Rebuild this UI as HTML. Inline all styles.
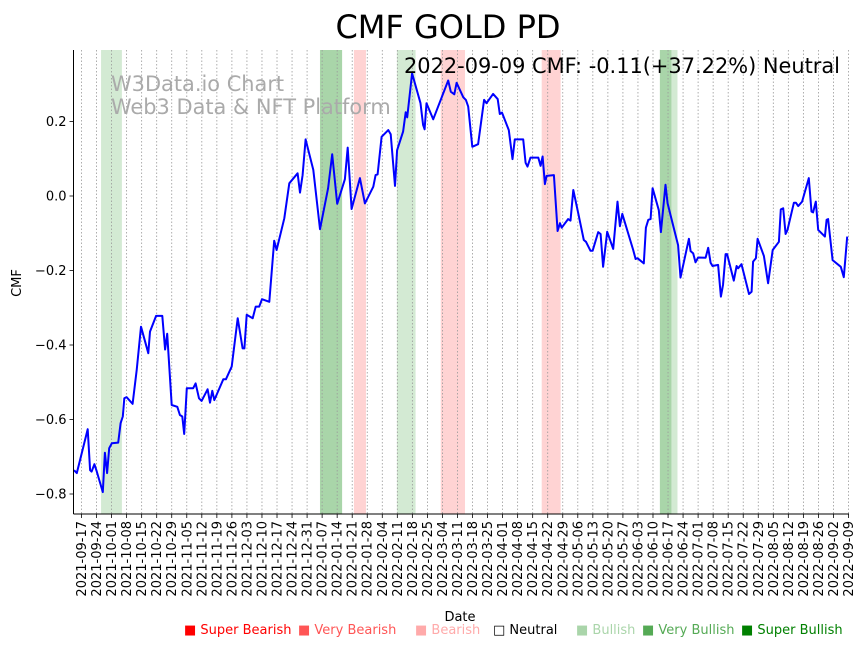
<!DOCTYPE html>
<html><head><meta charset="utf-8">
<style>
html,body{margin:0;padding:0;background:#fff;}
svg{display:block;font-family:"DejaVu Sans","Liberation Sans",sans-serif;}
</style></head>
<body>
<svg id="chart" width="864" height="646" viewBox="0 0 864 646">
<text x="448" y="38" font-size="32" text-anchor="middle">CMF GOLD PD</text>
<g id="bands"></g>
<g id="grid"></g>
<g fill="#aaaaaa" font-size="20.9">
<text x="111" y="91">W3Data.io Chart</text>
<text x="111" y="114">Web3 Data &amp; NFT Platform</text>
</g>
<g id="series"></g>
<g id="axes"></g>
<text x="840" y="73" font-size="20.9" text-anchor="end">2022-09-09 CMF: -0.11(+37.22%) Neutral</text>
<text x="0" y="0" font-size="13" text-anchor="middle" transform="translate(21,283) rotate(-90)">CMF</text>
<text x="460" y="621" font-size="13" text-anchor="middle">Date</text>
<g id="legend" font-size="13"></g>
</svg>
<script>
const tickLabels = ["2021-09-17","2021-09-24","2021-10-01","2021-10-08","2021-10-15","2021-10-22","2021-10-29","2021-11-05","2021-11-12","2021-11-19","2021-11-26","2021-12-03","2021-12-10","2021-12-17","2021-12-24","2021-12-31","2022-01-07","2022-01-14","2022-01-21","2022-01-28","2022-02-04","2022-02-11","2022-02-18","2022-02-25","2022-03-04","2022-03-11","2022-03-18","2022-03-25","2022-04-01","2022-04-08","2022-04-15","2022-04-22","2022-04-29","2022-05-06","2022-05-13","2022-05-20","2022-05-27","2022-06-03","2022-06-10","2022-06-17","2022-06-24","2022-07-01","2022-07-08","2022-07-15","2022-07-22","2022-07-29","2022-08-05","2022-08-12","2022-08-19","2022-08-26","2022-09-02","2022-09-09"];
const yTicks = [0.2,0.0,-0.2,-0.4,-0.6,-0.8];
const yTickLabels = ["0.2","0.0","−0.2","−0.4","−0.6","−0.8"];
// days since 2021-09-17
const days = [-3.5,-2.2,0.1,2.9,4.0,4.7,6.0,7.1,9.9,10.9,11.9,12.9,14.1,17.1,18.2,19.2,19.9,21.0,23.8,25.7,27.7,31.1,31.9,34.7,37.6,38.9,39.9,42.0,44.6,45.8,46.9,47.8,49.0,52.0,53.1,54.7,55.9,58.7,59.8,60.9,61.8,66.0,67.2,69.9,72.7,75.0,75.8,76.9,79.7,81.1,82.7,84.0,87.4,89.7,90.8,94.4,96.7,100.6,101.7,102.9,104.3,107.9,111.0,114.8,116.7,119.0,122.6,123.9,125.7,129.6,131.9,135.8,136.9,137.8,139.7,142.8,143.9,145.9,146.9,149.7,150.9,151.6,153.9,157.8,159.0,159.7,160.6,163.7,170.7,171.9,173.5,174.6,177.7,178.9,180.0,181.9,184.6,187.4,188.5,191.6,193.7,194.7,195.7,198.9,200.6,201.7,205.6,206.7,207.6,209.0,212.6,213.7,214.6,215.7,216.5,219.9,221.6,222.7,223.5,226.5,227.6,228.9,231.2,233.8,234.8,236.9,237.9,240.5,241.6,242.8,244.7,247.5,249.5,250.6,251.7,256.8,257.9,258.8,261.7,262.7,263.8,264.9,265.8,268.7,269.7,271.8,272.8,277.7,278.8,282.7,283.5,284.7,285.8,287.0,290.5,291.7,292.8,293.7,296.3,297.6,298.6,299.8,300.5,303.6,304.9,305.6,307.2,310.7,311.9,312.6,313.9,314.7,317.6,319.6,321.7,324.6,325.5,326.6,327.7,328.6,331.6,332.5,333.6,335.4,338.5,339.8,340.5,341.8,342.9,346.0,346.8,347.5,349.6,353.4,354.8,356.4];
const cmf = [-0.736,-0.744,-0.691,-0.626,-0.736,-0.740,-0.720,-0.740,-0.795,-0.689,-0.744,-0.677,-0.664,-0.662,-0.610,-0.592,-0.543,-0.540,-0.558,-0.467,-0.351,-0.422,-0.364,-0.322,-0.322,-0.412,-0.370,-0.561,-0.566,-0.588,-0.592,-0.639,-0.516,-0.516,-0.503,-0.543,-0.550,-0.519,-0.555,-0.523,-0.548,-0.492,-0.492,-0.458,-0.328,-0.409,-0.409,-0.319,-0.328,-0.297,-0.297,-0.277,-0.284,-0.120,-0.145,-0.060,0.034,0.061,0.009,0.056,0.152,0.070,-0.089,0.021,0.112,-0.021,0.045,0.130,-0.035,0.048,-0.020,0.025,0.056,0.058,0.159,0.177,0.166,0.027,0.123,0.173,0.225,0.211,0.329,0.249,0.191,0.179,0.249,0.206,0.310,0.280,0.273,0.304,0.265,0.258,0.240,0.132,0.139,0.258,0.249,0.274,0.260,0.220,0.224,0.177,0.099,0.152,0.152,0.089,0.079,0.103,0.103,0.081,0.106,0.032,0.054,0.056,-0.094,-0.073,-0.085,-0.062,-0.066,0.016,-0.046,-0.118,-0.123,-0.147,-0.147,-0.097,-0.102,-0.190,-0.096,-0.142,-0.015,-0.081,-0.048,-0.145,-0.169,-0.167,-0.181,-0.085,-0.064,-0.062,0.021,-0.038,-0.097,0.030,-0.020,-0.132,-0.219,-0.115,-0.148,-0.154,-0.178,-0.165,-0.166,-0.139,-0.179,-0.188,-0.185,-0.270,-0.239,-0.156,-0.156,-0.227,-0.188,-0.194,-0.183,-0.263,-0.257,-0.176,-0.167,-0.115,-0.161,-0.234,-0.145,-0.123,-0.036,-0.033,-0.102,-0.091,-0.018,-0.018,-0.027,-0.015,0.048,-0.042,-0.044,-0.015,-0.091,-0.109,-0.064,-0.062,-0.172,-0.190,-0.218,-0.109];
const bandStart = [9.1,111.0,126.8,146.8,167.2,214.2,269.2,274.6];
const bandEnd = [18.8,121.3,132.4,155.5,178.5,223.0,274.6,277.4];
const bandType = ["bullish","very-bullish","bearish","bullish","bearish","bearish","very-bullish","bullish"];
const legendLabels = ["Super Bearish","Very Bearish","Bearish","Neutral","Bullish","Very Bullish","Super Bullish"];

const NS="http://www.w3.org/2000/svg";
const L=73.5, R=849, T=50, B=514;
const x = d => 81.5 + d*(767/357);
const y = v => 196 - v*372.5;
function mk(tag, attrs, parent){const e=document.createElementNS(NS,tag);for(const k in attrs)e.setAttribute(k,attrs[k]);parent.appendChild(e);return e;}
const bandFill={"bullish":"#d3ead3","very-bullish":"#a9d5a9","bearish":"#ffd3d3"};
const gB=document.getElementById('bands');
for(let i=0;i<bandStart.length;i++){
  const r=mk('rect',{x:x(bandStart[i]),y:T,width:x(bandEnd[i])-x(bandStart[i]),height:B-T,fill:bandFill[bandType[i]]},gB);
  
  
}
const gG=document.getElementById('grid'), gA=document.getElementById('axes');
for(let i=0;i<tickLabels.length;i++){
  const xp=x(i*7);
  const gl=mk('line',{x1:xp,x2:xp,y1:T,y2:B,stroke:'#999',"stroke-width":0.8,"stroke-dasharray":"1.5,2"},gG);
  
  
  mk('line',{x1:xp,x2:xp,y1:B,y2:B+4,stroke:'#000',"stroke-width":0.8},gA);
  const t=mk('text',{transform:`translate(${xp+4.5},${B+7}) rotate(-90)`,"font-size":13,"text-anchor":"end"},gA);
  t.textContent=tickLabels[i];
  
  
}
for(let i=0;i<yTicks.length;i++){
  const yp=y(yTicks[i]);
  mk('line',{x1:L-4,x2:L,y1:yp,y2:yp,stroke:'#000',"stroke-width":0.8},gA);
  const t=mk('text',{x:L-7,y:yp+4.5,"font-size":13,"text-anchor":"end"},gA);
  t.textContent=yTickLabels[i];
  
  
}
mk('line',{x1:L,x2:L,y1:T,y2:B,stroke:'#000',"stroke-width":1},gA);
mk('line',{x1:L,x2:R,y1:B,y2:B,stroke:'#000',"stroke-width":1},gA);
const pts=days.map((d,i)=>x(d).toFixed(1)+','+y(cmf[i]).toFixed(1)).join(' ');
const pl=mk('polyline',{points:pts,fill:'none',stroke:'#0000ff',"stroke-width":2,"stroke-linejoin":"round"},document.getElementById('series'));


const legX=[184,298,415,493,576,642,741];
const legC=["#ff0000","#ff5555","#ffaaaa","#000000","#aad5aa","#55aa55","#008000"];
const gL=document.getElementById('legend');
for(let i=0;i<legendLabels.length;i++){
  const t=mk('text',{x:legX[i],y:634,fill:legC[i]},gL);
  t.textContent=(i===3?"□ ":"■ ")+legendLabels[i];
  
  
}
</script>
</body></html>
